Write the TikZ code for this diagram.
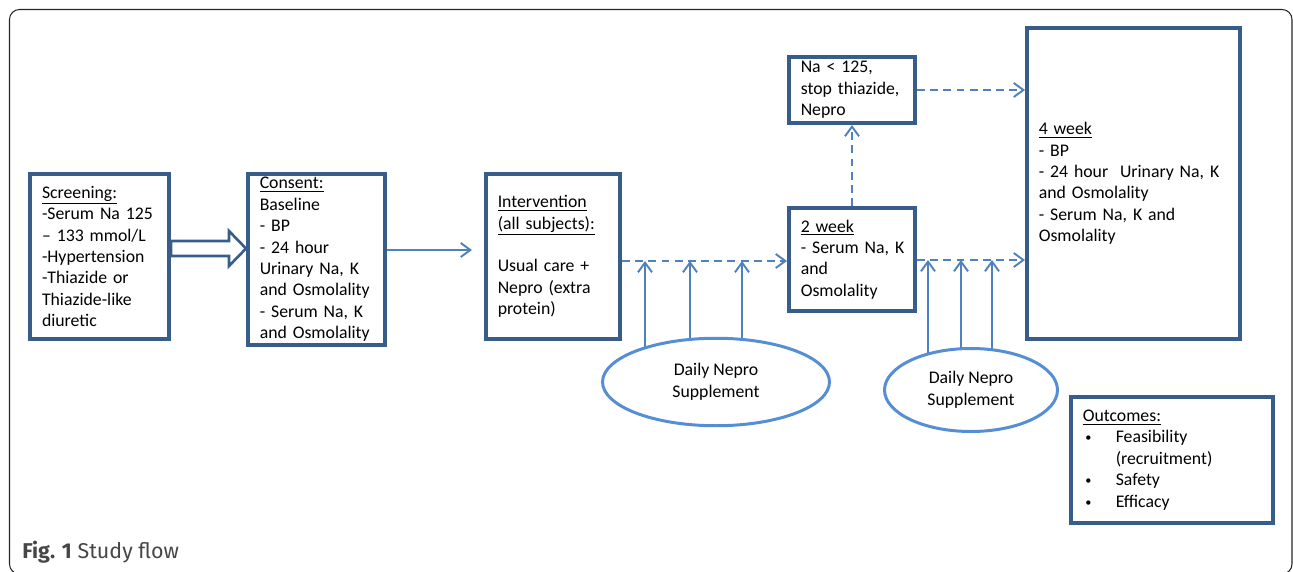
\documentclass[tikz,border=0pt]{standalone}
\usepackage{fontspec}
\setmainfont{Carlito}
\newfontfamily\capfont{Fira Sans}
\usetikzlibrary{positioning,calc}
\usetikzlibrary{arrows.meta,shapes.geometric,backgrounds}
\definecolor{BoxBlue}{RGB}{56,93,138}
\definecolor{LineBlue}{RGB}{79,129,189}
\definecolor{OvalBlue}{RGB}{85,142,213}
\definecolor{CapGray}{RGB}{70,70,70}
\newcommand{\bul}{\makebox[0.66cm][l]{\hspace{1.5pt}\raisebox{0.6pt}{\fontsize{7}{7}\selectfont\textbullet}}}
\tikzset{
	box/.style={draw=BoxBlue,line width=2pt,fill=white,align=left,
		inner xsep=0.24cm,inner ysep=0pt,font=\fontsize{10.1}{12.2}\selectfont},
	oval/.style={ellipse,draw=OvalBlue,line width=1.7pt,fill=white,align=center,
		inner sep=0pt,font=\fontsize{10.1}{12.6}\selectfont},
	link/.style={draw=LineBlue,line width=1.1pt,-{Straight Barb[length=5.5pt,width=8pt]}},
	dashlink/.style={link,dash pattern=on 4.5pt off 3pt},
	fat/.style={draw=BoxBlue,line width=1.5pt,fill=white,line join=miter},
}

\begin{document}
\begin{tikzpicture}[x=0.02cm,y=-0.02cm]
	\useasboundingbox (0,0) rectangle (1293,571);
	\clip (0,0) rectangle (1293,571);
	\draw[black!85,line width=0.6pt,rounded corners=0.2cm] (9.5,9.5) rectangle (1292,574);
	% boxes
	\node[box,text width=2.30cm,minimum width=2.79cm,minimum height=3.31cm] (scr) at (99.5,256.5)
		{\underline{Screening:}\\-Serum Na 125\\– 133 mmol/L\\-Hypertension\\-Thiazide or\\Thiazide-like\\diuretic};
	\node[box,text width=2.27cm,minimum width=2.75cm,minimum height=3.43cm] (con) at (316.5,259.5)
		{\underline{Consent:}\\Baseline\\- BP\\- 24 hour\\Urinary Na, K\\and Osmolality\\- Serum Na, K\\and Osmolality};
	\node[box,text width=2.21cm,minimum width=2.69cm,minimum height=3.31cm] (int) at (553,256.5)
		{\underline{Intervention}\\\underline{(all subjects):}\\[12.2pt]Usual care +\\Nepro (extra\\protein)};
	\node[box,text width=2.05cm,minimum width=2.53cm,minimum height=2.07cm] (wk2) at (852,259.5)
		{\underline{2 week}\\\mbox{- Serum Na, K}\\and\\Osmolality};
	\node[box,text width=2.05cm,minimum width=2.53cm,minimum height=1.33cm] (nab) at (852,90)
		{Na < 125,\\\mbox{stop thiazide,}\\Nepro};
	\node[box,text width=3.79cm,minimum width=4.27cm,minimum height=6.23cm] (wk4) at (1133.5,183.5)
		{\underline{4 week}\\- BP\\- 24 hour~~Urinary Na, K\\and Osmolality\\- Serum Na, K and\\Osmolality};
	\node[box,text width=3.57cm,minimum width=4.05cm,minimum height=2.53cm] (out) at (1172,460)
		{\underline{Outcomes:}\\
		\bul Feasibility\\
		\hspace*{0.66cm}(recruitment)\\
		\bul Safety\\
		\bul Efficacy};
	% supplements
	\node[oval,minimum width=4.54cm,minimum height=1.75cm] (sup1) at (716,382) {Daily Nepro\\Supplement};
	\node[oval,minimum width=3.46cm,minimum height=1.66cm] (sup2) at (971,390) {Daily Nepro\\Supplement};
	\coordinate (in2) at (wk2.west |- 0,261);
	\coordinate (out2) at (wk2.east |- 0,260);
	\begin{scope}[on background layer]
		\foreach \x in {645,690,742}
		\draw[link] (\x,0 |- sup1.center) -- (\x,0 |- in2);
		\foreach \x in {928,961,992}
		\draw[link] (\x,0 |- sup2.center) -- (\x,0 |- out2);
	\end{scope}
	% connectors
	\draw[fat] (scr.east |- 0,241) -- (229,241) -- (229,231) -- (con.west |- 0,248.5)
		-- (229,266) -- (229,256) -- (scr.east |- 0,256) -- cycle;
	\draw[link] ($(con.east)+(0,-9.5)$) -- ($(int.west)+(-12,-6.5)$);
	\draw[dashlink] (int.east |- in2) -- (in2);
	\draw[dashlink] (wk2.north) -- (nab.south);
	\draw[dashlink] (nab.east) -- (nab.east -| wk4.west);
	\draw[dashlink] (out2) -- (out2 -| wk4.west);
	% caption
	\node[anchor=base west,inner sep=0pt,font=\capfont\fontsize{12.2}{14}\selectfont,text=CapGray] (cap) at (22,558)
		{\textbf{Fig. 1} Study flow};
\end{tikzpicture}
\end{document}
